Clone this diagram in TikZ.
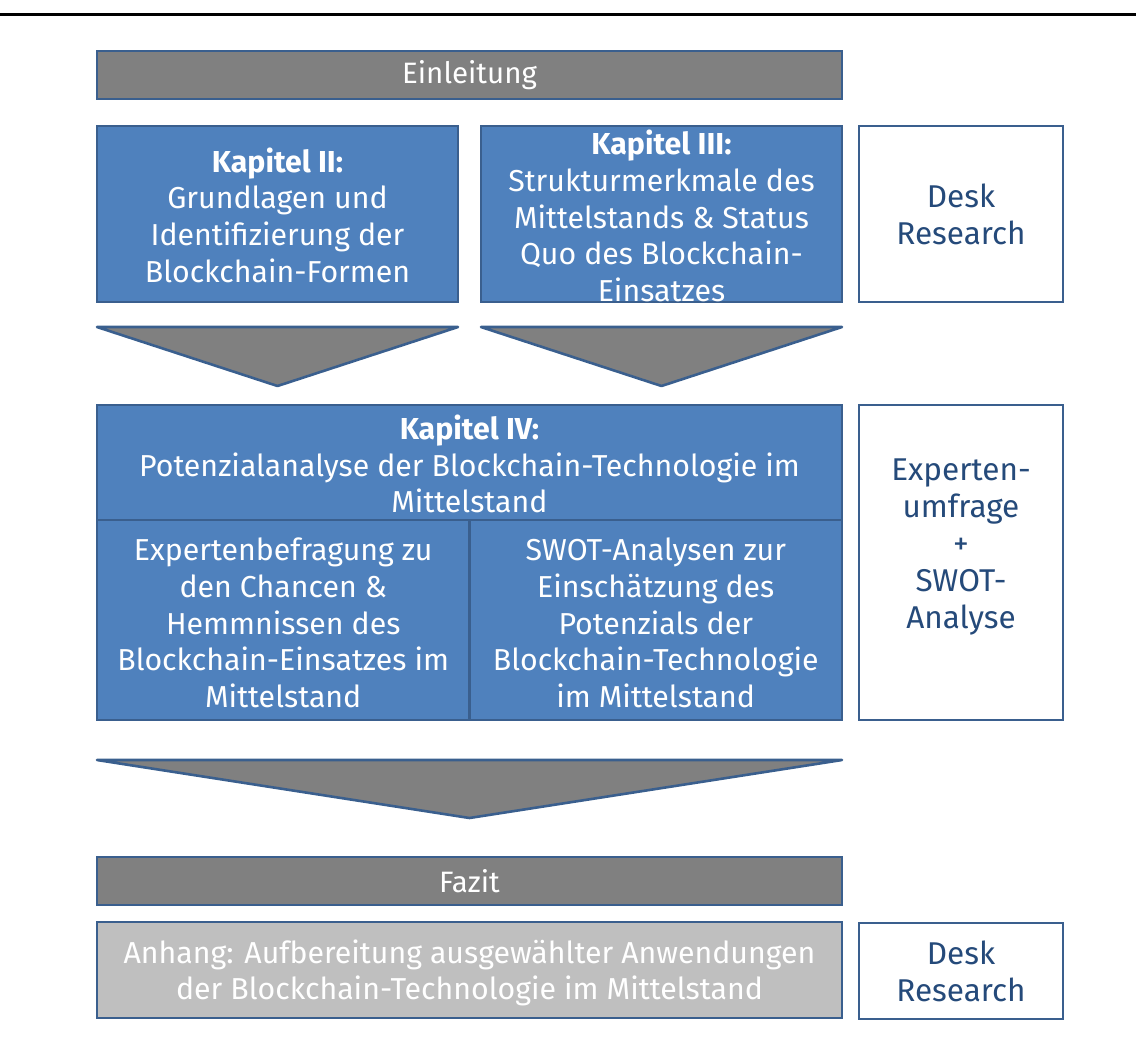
\documentclass[tikz,border=0pt]{standalone}
\usepackage{fontspec}
\setmainfont{Fira Sans}
\begin{document}
\definecolor{bfill}{HTML}{4F81BD}
\definecolor{bline}{HTML}{3A5F8E}
\definecolor{gfill}{HTML}{808080}
\definecolor{lgfill}{HTML}{BFBFBF}
\definecolor{dtext}{HTML}{254A7A}
\begin{tikzpicture}[x=1pt,y=-1pt,
  boxbase/.style={draw=bline,line width=2.6pt,inner sep=0pt,align=center,font=\fontsize{30.3}{36.6}\selectfont},
  bluebox/.style={boxbase,fill=bfill,text=white},
  graybox/.style={boxbase,fill=gfill,text=white,font=\fontsize{29.5}{34}\selectfont},
  lgbox/.style={boxbase,fill=lgfill,text=white},
  whitebox/.style={boxbase,fill=white,text=dtext,font=\fontsize{31.5}{37}\selectfont},
  txt/.style={inner sep=0pt,align=center,font=\fontsize{30.3}{36.6}\selectfont},
  wtxt/.style={inner sep=0pt,align=center,font=\fontsize{31.5}{37}\selectfont},
  tri/.style={draw=bline,fill=gfill,line width=2.6pt,line join=round}]
\useasboundingbox (0,0) rectangle (1136,1047);
\draw[line width=3pt] (0,14) -- (1136,14);
% Einleitung
\node[graybox,minimum width=745pt,minimum height=48pt] (einl) at (469.5,75) {Einleitung};
% Kapitel II / III
\node[bluebox,minimum width=361pt,minimum height=176pt] (k2) at (277.5,214) {};
\node[txt,text=white] (k2t) at (277.5,215) {\textbf{Kapitel II:}\\Grundlagen und\\Identifizierung der\\Blockchain-Formen};
\node[bluebox,minimum width=361pt,minimum height=176pt] (k3) at (661.5,214) {};
\node[txt,text=white] (k3t) at (661.5,216) {\textbf{Kapitel III:}\\Strukturmerkmale des\\Mittelstands \& Status\\Quo des Blockchain-\\Einsatzes};
\node[whitebox,minimum width=204pt,minimum height=176pt] (dr1) at (961,214) {Desk\\Research};
% Triangles
\coordinate (t1a) at (97,327); \coordinate (t1b) at (458,327); \coordinate (t1c) at (277.5,386);
\draw[tri] (t1a) -- (t1b) -- (t1c) -- cycle;
\coordinate (t2a) at (481,327); \coordinate (t2b) at (842,327); \coordinate (t2c) at (661.5,386);
\draw[tri] (t2a) -- (t2b) -- (t2c) -- cycle;
% Kapitel IV
\node[bluebox,minimum width=745pt,minimum height=315pt] (k4) at (469.5,562.5) {};
\node[txt,text=white] (k4t) at (469.5,464) {\textbf{Kapitel IV:}\\Potenzialanalyse der Blockchain-Technologie im\\Mittelstand};
\coordinate (h1) at (97,520); \coordinate (h2) at (842,520);
\coordinate (v1) at (469.5,520); \coordinate (v2) at (469.5,720);
\draw[bline,line width=2.6pt] (h1) -- (h2);
\draw[bline,line width=2.6pt] (v1) -- (v2);
\node[txt,text=white] (k4a) at (283.25,623) {Expertenbefragung zu\\den Chancen \&\\Hemmnissen des\\Blockchain-Einsatzes im\\Mittelstand};
\node[txt,text=white] (k4b) at (655.75,623) {SWOT-Analysen zur\\Einschätzung des\\Potenzials der\\Blockchain-Technologie\\im Mittelstand};
\node[whitebox,minimum width=204pt,minimum height=315pt] (exp) at (961,562.5) {};
\node[wtxt,text=dtext] (expt) at (961,547) {Experten-\\umfrage\\+\\SWOT-\\Analyse};
% Big triangle
\coordinate (t3a) at (97,760); \coordinate (t3b) at (842,760); \coordinate (t3c) at (469.5,818);
\draw[tri] (t3a) -- (t3b) -- (t3c) -- cycle;
% Fazit
\node[graybox,minimum width=745pt,minimum height=48pt] (fazit) at (469.5,881) {Fazit};
% Anhang
\node[lgbox,minimum width=745pt,minimum height=96pt] (anh) at (469.5,970) {};
\node[txt,text=white] (anht) at (469.5,973) {Anhang: Aufbereitung ausgewählter Anwendungen\\der Blockchain-Technologie im Mittelstand};
\node[whitebox,minimum width=204pt,minimum height=96pt] (dr2) at (961,971) {Desk\\Research};
\end{tikzpicture}
\end{document}
